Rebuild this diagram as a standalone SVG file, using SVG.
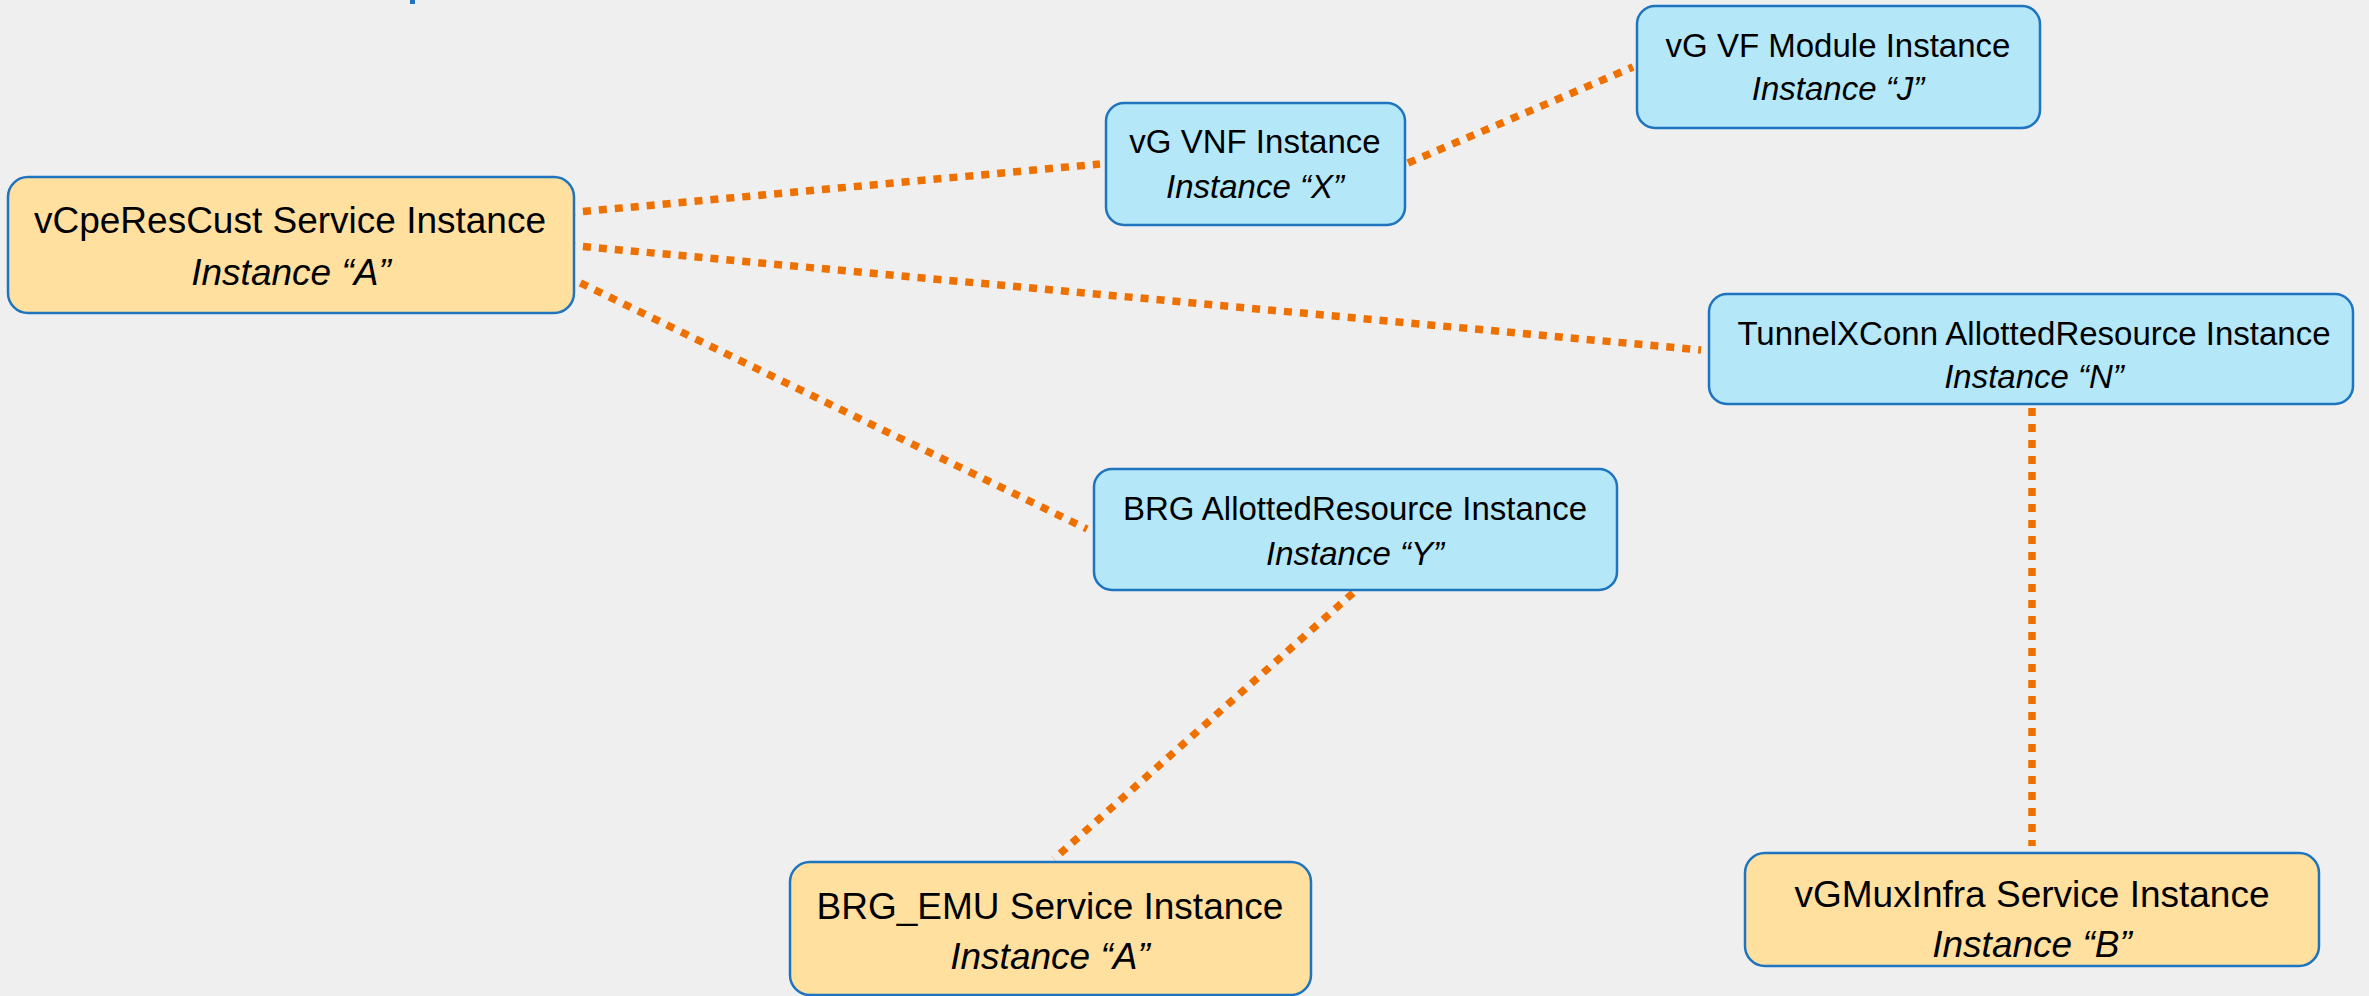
<svg xmlns="http://www.w3.org/2000/svg" width="2369" height="996" viewBox="0 0 2369 996">
<style>
.bg{fill:#EFEFEF}
.y{fill:#FFE09E;stroke:#1E74BE;stroke-width:2.5}
.b{fill:#B4E8F9;stroke:#1E74BE;stroke-width:2.5}
.t{font-family:"Liberation Sans",Arial,sans-serif;fill:#000;text-anchor:middle}
.ty{font-size:37px}
.tb{font-size:33px}
.i{font-style:italic}
.c{stroke:#EE7100;stroke-width:7.5;stroke-dasharray:8 8;fill:none}
</style>
<rect class="bg" x="0" y="0" width="2369" height="996"/>
<rect x="410" y="0" width="5" height="4" fill="#1E74BE"/>
<g id="connectors">
<line class="c" x1="567" y1="213" x2="1100" y2="164"/>
<line class="c" x1="1408" y1="163" x2="1633" y2="67"/>
<line class="c" x1="567" y1="245" x2="1701" y2="350"/>
<line class="c" x1="566" y1="276" x2="1087" y2="529"/>
<line class="c" x1="1353" y1="593" x2="1054" y2="859"/>
<line class="c" x1="2032" y1="408" x2="2032" y2="846"/>
</g>
<g id="nodeA">
<rect class="y" x="8" y="177" width="566" height="136" rx="20"/>
<text class="t ty" x="290" y="233">vCpeResCust Service Instance</text>
<text class="t ty i" x="291" y="285">Instance “A”</text>
</g>
<g id="nodeX">
<rect class="b" x="1106" y="103" width="299" height="122" rx="18"/>
<text class="t tb" x="1255" y="153">vG VNF Instance</text>
<text class="t tb i" x="1255" y="198">Instance “X”</text>
</g>
<g id="nodeJ">
<rect class="b" x="1637" y="6" width="403" height="122" rx="18"/>
<text class="t tb" x="1838" y="57">vG VF Module Instance</text>
<text class="t tb i" x="1838" y="100">Instance “J”</text>
</g>
<g id="nodeN">
<rect class="b" x="1709" y="294" width="644" height="110" rx="18"/>
<text class="t tb" x="2034" y="345">TunnelXConn AllottedResource Instance</text>
<text class="t tb i" x="2034" y="388">Instance “N”</text>
</g>
<g id="nodeY">
<rect class="b" x="1094" y="469" width="523" height="121" rx="18"/>
<text class="t tb" x="1355" y="520">BRG AllottedResource Instance</text>
<text class="t tb i" x="1355" y="565">Instance “Y”</text>
</g>
<g id="nodeEMU">
<rect class="y" x="790" y="862" width="521" height="133" rx="20"/>
<text class="t ty" x="1050" y="919">BRG_EMU Service Instance</text>
<text class="t ty i" x="1050" y="969">Instance “A”</text>
</g>
<g id="nodeB">
<rect class="y" x="1745" y="853" width="574" height="113" rx="20"/>
<text class="t ty" x="2032" y="907">vGMuxInfra Service Instance</text>
<text class="t ty i" x="2032" y="957">Instance “B”</text>
</g>
</svg>
